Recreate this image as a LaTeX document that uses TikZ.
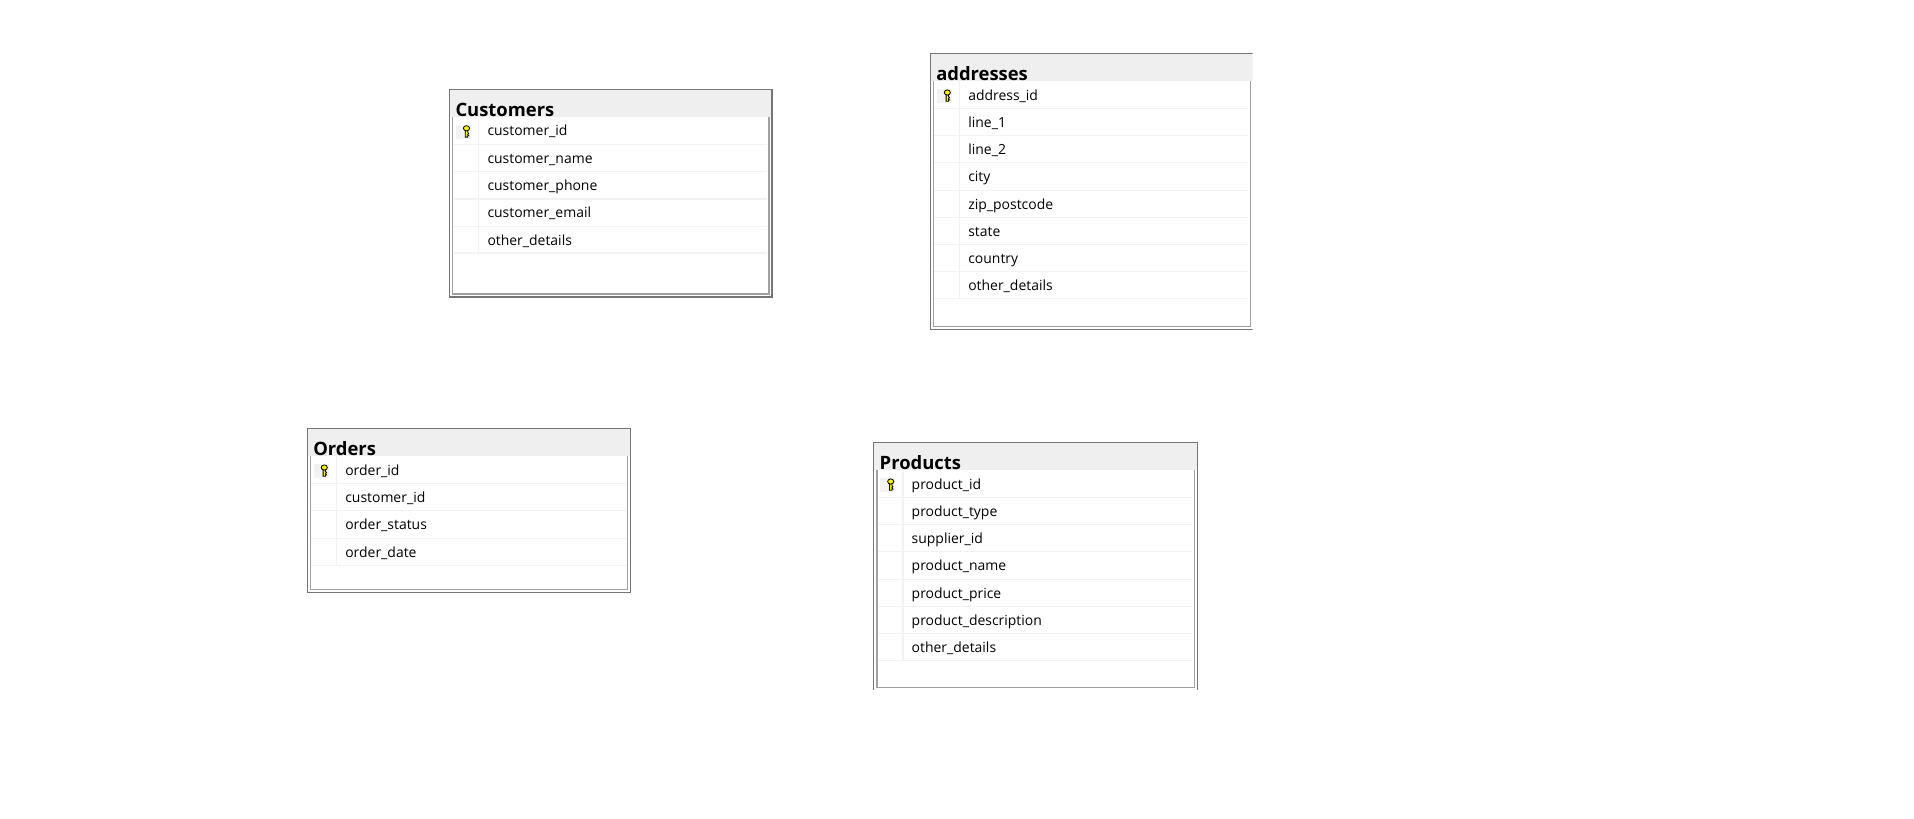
\documentclass[tikz,border=0pt]{standalone}
\usepackage{fontspec}
\setmainfont{Open Sans}
\definecolor{outerc}{HTML}{757575}
\definecolor{innerc}{HTML}{A0A0A0}
\definecolor{headc}{HTML}{EFEFEF}
\definecolor{gridc}{HTML}{F2F2F2}
\definecolor{keyc}{HTML}{F8F000}
\tikzset{
  x=1pt,y=-1pt,
  outerbox/.style={draw=outerc,line width=1.3pt},
  innerbox/.style={draw=innerc,line width=1.3pt},
  headfill/.style={fill=headc,draw=none},
  gridline/.style={draw=gridc,line width=1.2pt},
  rowtext/.style={anchor=base west,inner sep=0pt,font=\fontsize{13.95}{16}\selectfont,text=black},
  titletext/.style={anchor=base west,inner sep=0pt,font=\fontsize{18.4}{20}\selectfont\bfseries,text=black},
  keybg/.style={fill=gridc,draw=none},
  keyshape/.style={fill=keyc,draw=black,line width=0.8pt,line join=miter},
}
% #1 id, #2 title, #3 x0, #4 y0, #5 x1, #6 y1, #7 clip x, #8 clip y, #9 row list (line y/text)
\newcommand{\dbtable}[9]{%
  \begin{scope}
    \clip (#3-2,#4-2) rectangle (#7,#8);
    \pgfmathsetmacro{\tabtop}{#4+27.6}
    \fill[white] (#3,#4) rectangle (#5,#6);
    \draw[innerbox] (#3+3.2,\tabtop) -- (#3+3.2,#6-3) -- (#5-3,#6-3) -- (#5-3,\tabtop);
    \fill[headfill] (#3,#4) rectangle (#5,\tabtop);
    \draw[outerbox] (#3,#4) rectangle (#5,#6);
    \node[titletext] (#1-title) at (#3+5.8,#4+26.6) {#2};
    \fill[keybg] (#3+6.5,\tabtop+8) rectangle (#3+21.5,\tabtop+22);
    \draw[keyshape] (#3+15.8,\tabtop+12.6) -- (#3+15.8,\tabtop+20) -- (#3+18.2,\tabtop+20) -- (#3+18.2,\tabtop+18.6) -- (#3+19.2,\tabtop+18.6) -- (#3+18.2,\tabtop+17.4) -- (#3+19.2,\tabtop+16.2) -- (#3+18.2,\tabtop+15.2) -- (#3+18.2,\tabtop+12.6) -- cycle;
    \draw[keyshape] (#3+17,\tabtop+11.2) ellipse (3.1 and 2.6);
    \foreach \ly/\txt [count=\i, remember=\ly as \prev (initially \tabtop)] in {#9} {
      \draw[gridline] (#3+29.2,\prev) -- (#3+29.2,\ly);
      \draw[gridline] (#3+4,\ly) -- (#5-5,\ly);
      \node[rowtext] (#1-row\i) at (#3+37.8,\prev+18.8) {\txt};
    }
  \end{scope}%
}
\begin{document}
\begin{tikzpicture}
\useasboundingbox (0,0) rectangle (1914,819);
\fill[white] (0,0) rectangle (1914,819);
\dbtable{customers}{Customers}{449.5}{89.5}{772}{297}{900}{400}{
  144.3/customer\_id,171.3/customer\_name,199/customer\_phone,226.3/customer\_email,253/other\_details}
\dbtable{addresses}{addresses}{930.3}{53.7}{1253.3}{329.3}{1252.7}{400}{
  108.3/address\_id,135.3/line\_1,162.3/line\_2,190.3/city,217.3/zip\_postcode,244.3/state,271.3/country,298.3/other\_details}
\dbtable{orders}{Orders}{307.3}{428.7}{630.7}{592.3}{700}{700}{
  483.3/order\_id,510.3/customer\_id,538.3/order\_status,565.3/order\_date}
\dbtable{products}{Products}{873.7}{442.7}{1197.3}{690.3}{1300}{689.3}{
  497.3/product\_id,524.3/product\_type,551.3/supplier\_id,579.3/product\_name,606.3/product\_price,633.3/product\_description,660.3/other\_details}
\end{tikzpicture}
\end{document}
